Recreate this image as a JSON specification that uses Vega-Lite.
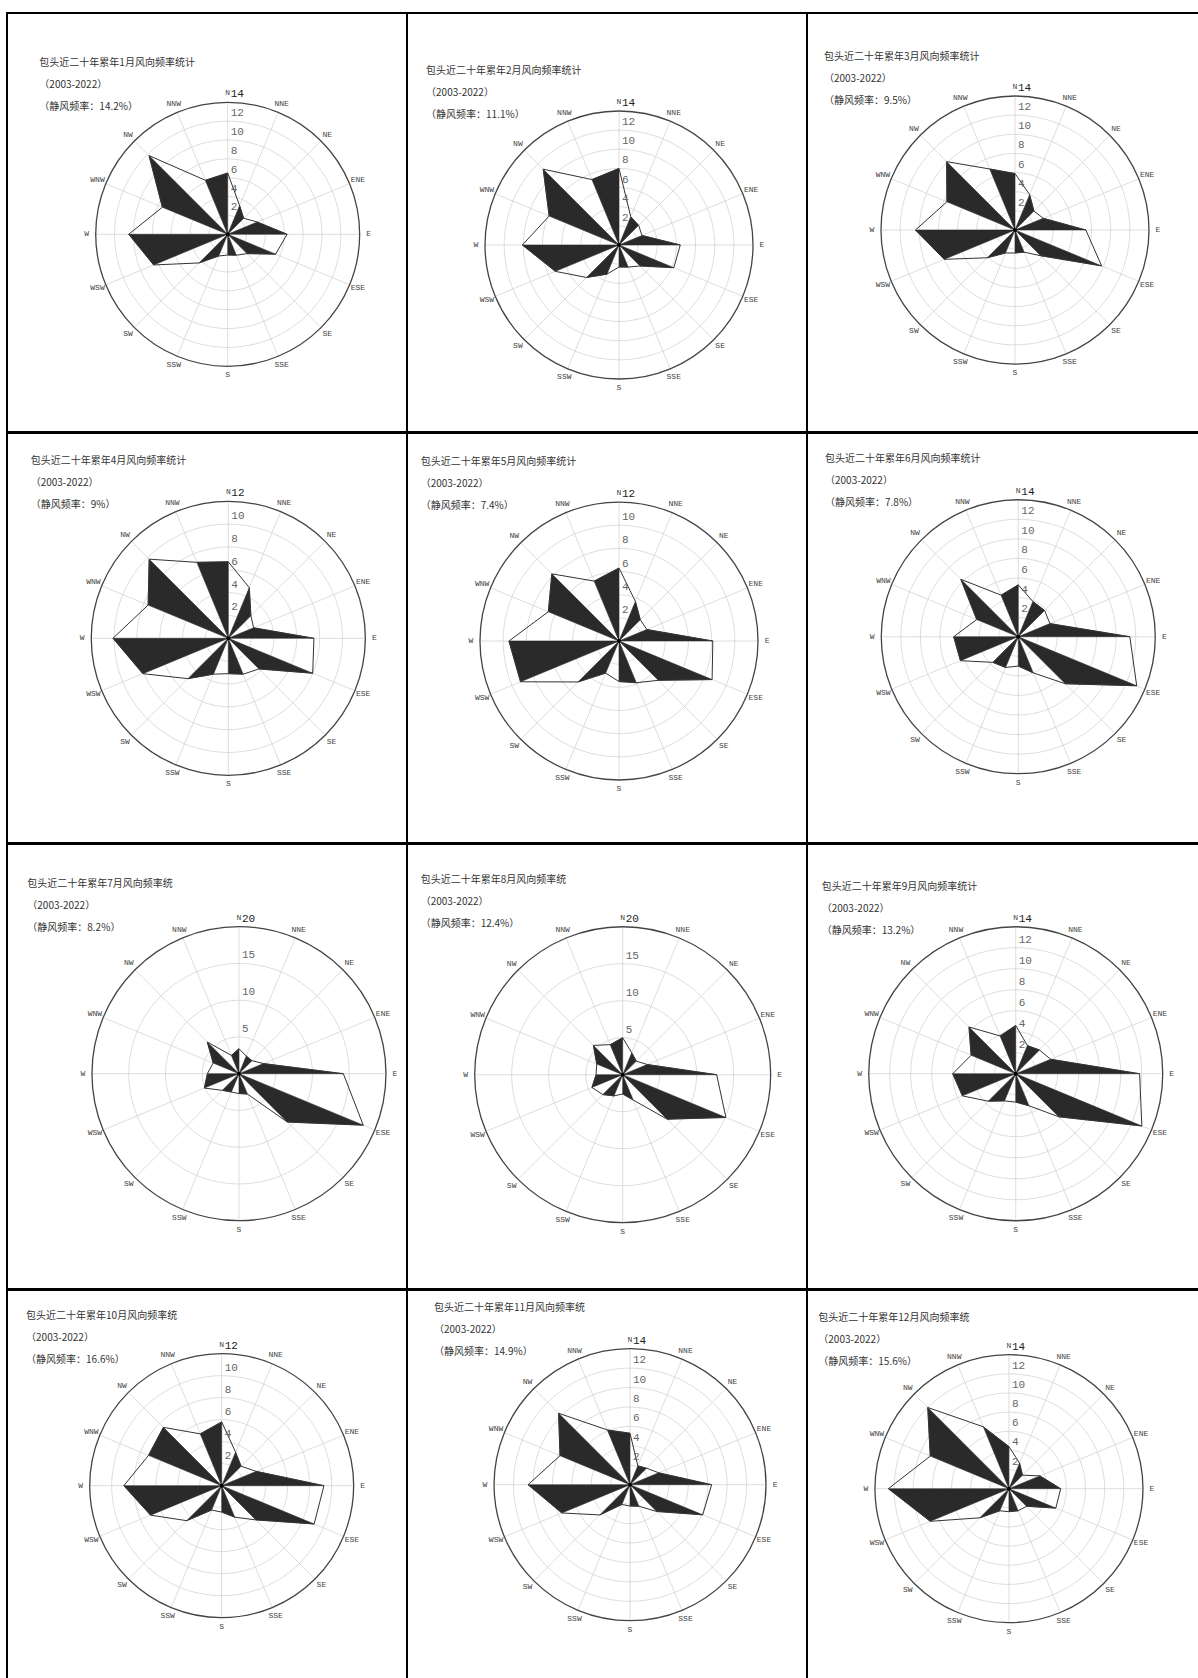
{
"$schema": "https://vega.github.io/schema/vega-lite/v6.json",
"background": "white",
"padding": {"left": 6, "top": 12, "right": 0, "bottom": 0},
"spacing": -2,
"resolve": {"scale": {"x": "independent", "y": "independent"}},
"config": {"view": {"stroke": "#000", "strokeWidth": 2}},
"datasets": {
"dirs": [{"i":0,"d":"N"},{"i":1,"d":"NNE"},{"i":2,"d":"NE"},{"i":3,"d":"ENE"},{"i":4,"d":"E"},{"i":5,"d":"ESE"},{"i":6,"d":"SE"},{"i":7,"d":"SSE"},{"i":8,"d":"S"},{"i":9,"d":"SSW"},{"i":10,"d":"SW"},{"i":11,"d":"WSW"},{"i":12,"d":"W"},{"i":13,"d":"WNW"},{"i":14,"d":"NW"},{"i":15,"d":"NNW"}],
"wind": [
{"m":1,"i":0,"f":6.5},{"m":1,"i":1,"f":3.3},{"m":1,"i":2,"f":2.4},{"m":1,"i":3,"f":3.4},{"m":1,"i":4,"f":6.3},{"m":1,"i":5,"f":5.5},{"m":1,"i":6,"f":2.9},{"m":1,"i":7,"f":2.4},{"m":1,"i":8,"f":2.2},{"m":1,"i":9,"f":2.5},{"m":1,"i":10,"f":4.3},{"m":1,"i":11,"f":8.5},{"m":1,"i":12,"f":10.5},{"m":1,"i":13,"f":7.5},{"m":1,"i":14,"f":11.8},{"m":1,"i":15,"f":6.2},
{"m":2,"i":0,"f":8.0},{"m":2,"i":1,"f":3.2},{"m":2,"i":2,"f":2.9},{"m":2,"i":3,"f":2.6},{"m":2,"i":4,"f":6.4},{"m":2,"i":5,"f":6.2},{"m":2,"i":6,"f":3.1},{"m":2,"i":7,"f":2.5},{"m":2,"i":8,"f":2.3},{"m":2,"i":9,"f":3.3},{"m":2,"i":10,"f":4.8},{"m":2,"i":11,"f":7.2},{"m":2,"i":12,"f":10.1},{"m":2,"i":13,"f":7.9},{"m":2,"i":14,"f":11.2},{"m":2,"i":15,"f":7.4},
{"m":3,"i":0,"f":5.9},{"m":3,"i":1,"f":4.0},{"m":3,"i":2,"f":2.8},{"m":3,"i":3,"f":3.2},{"m":3,"i":4,"f":7.4},{"m":3,"i":5,"f":9.8},{"m":3,"i":6,"f":3.8},{"m":3,"i":7,"f":2.5},{"m":3,"i":8,"f":2.4},{"m":3,"i":9,"f":2.6},{"m":3,"i":10,"f":4.1},{"m":3,"i":11,"f":8.0},{"m":3,"i":12,"f":10.4},{"m":3,"i":13,"f":7.7},{"m":3,"i":14,"f":10.1},{"m":3,"i":15,"f":6.9},
{"m":4,"i":0,"f":6.7},{"m":4,"i":1,"f":4.8},{"m":4,"i":2,"f":2.8},{"m":4,"i":3,"f":2.4},{"m":4,"i":4,"f":7.5},{"m":4,"i":5,"f":8.0},{"m":4,"i":6,"f":3.8},{"m":4,"i":7,"f":3.4},{"m":4,"i":8,"f":3.1},{"m":4,"i":9,"f":3.4},{"m":4,"i":10,"f":5.0},{"m":4,"i":11,"f":8.1},{"m":4,"i":12,"f":10.1},{"m":4,"i":13,"f":7.6},{"m":4,"i":14,"f":9.8},{"m":4,"i":15,"f":7.2},
{"m":5,"i":0,"f":6.3},{"m":5,"i":1,"f":3.7},{"m":5,"i":2,"f":2.6},{"m":5,"i":3,"f":2.6},{"m":5,"i":4,"f":8.1},{"m":5,"i":5,"f":8.7},{"m":5,"i":6,"f":4.8},{"m":5,"i":7,"f":3.9},{"m":5,"i":8,"f":3.5},{"m":5,"i":9,"f":3.0},{"m":5,"i":10,"f":5.0},{"m":5,"i":11,"f":9.2},{"m":5,"i":12,"f":9.5},{"m":5,"i":13,"f":6.6},{"m":5,"i":14,"f":8.2},{"m":5,"i":15,"f":5.6},
{"m":6,"i":0,"f":5.3},{"m":6,"i":1,"f":3.9},{"m":6,"i":2,"f":3.8},{"m":6,"i":3,"f":3.5},{"m":6,"i":4,"f":11.4},{"m":6,"i":5,"f":13.1},{"m":6,"i":6,"f":6.8},{"m":6,"i":7,"f":4.0},{"m":6,"i":8,"f":3.0},{"m":6,"i":9,"f":3.4},{"m":6,"i":10,"f":3.7},{"m":6,"i":11,"f":6.4},{"m":6,"i":12,"f":6.6},{"m":6,"i":13,"f":4.6},{"m":6,"i":14,"f":8.3},{"m":6,"i":15,"f":4.6},
{"m":7,"i":0,"f":3.4},{"m":7,"i":1,"f":2.6},{"m":7,"i":2,"f":2.5},{"m":7,"i":3,"f":3.6},{"m":7,"i":4,"f":14.2},{"m":7,"i":5,"f":18.3},{"m":7,"i":6,"f":9.3},{"m":7,"i":7,"f":3.0},{"m":7,"i":8,"f":2.7},{"m":7,"i":9,"f":2.7},{"m":7,"i":10,"f":3.2},{"m":7,"i":11,"f":5.1},{"m":7,"i":12,"f":4.3},{"m":7,"i":13,"f":3.8},{"m":7,"i":14,"f":6.1},{"m":7,"i":15,"f":2.7},
{"m":8,"i":0,"f":5.0},{"m":8,"i":1,"f":3.2},{"m":8,"i":2,"f":2.6},{"m":8,"i":3,"f":3.6},{"m":8,"i":4,"f":12.7},{"m":8,"i":5,"f":15.1},{"m":8,"i":6,"f":8.5},{"m":8,"i":7,"f":3.7},{"m":8,"i":8,"f":2.6},{"m":8,"i":9,"f":3.1},{"m":8,"i":10,"f":3.8},{"m":8,"i":11,"f":4.5},{"m":8,"i":12,"f":3.6},{"m":8,"i":13,"f":3.8},{"m":8,"i":14,"f":5.6},{"m":8,"i":15,"f":4.4},
{"m":9,"i":0,"f":4.6},{"m":9,"i":1,"f":2.9},{"m":9,"i":2,"f":3.2},{"m":9,"i":3,"f":3.6},{"m":9,"i":4,"f":11.8},{"m":9,"i":5,"f":13.0},{"m":9,"i":6,"f":5.8},{"m":9,"i":7,"f":3.3},{"m":9,"i":8,"f":2.7},{"m":9,"i":9,"f":2.8},{"m":9,"i":10,"f":3.7},{"m":9,"i":11,"f":5.5},{"m":9,"i":12,"f":6.0},{"m":9,"i":13,"f":4.6},{"m":9,"i":14,"f":6.3},{"m":9,"i":15,"f":3.9},
{"m":10,"i":0,"f":5.8},{"m":10,"i":1,"f":3.3},{"m":10,"i":2,"f":2.5},{"m":10,"i":3,"f":3.4},{"m":10,"i":4,"f":9.3},{"m":10,"i":5,"f":9.1},{"m":10,"i":6,"f":4.4},{"m":10,"i":7,"f":3.1},{"m":10,"i":8,"f":2.4},{"m":10,"i":9,"f":2.4},{"m":10,"i":10,"f":4.5},{"m":10,"i":11,"f":7.0},{"m":10,"i":12,"f":8.9},{"m":10,"i":13,"f":7.2},{"m":10,"i":14,"f":7.5},{"m":10,"i":15,"f":5.1},
{"m":11,"i":0,"f":5.3},{"m":11,"i":1,"f":2.1},{"m":11,"i":2,"f":2.4},{"m":11,"i":3,"f":3.2},{"m":11,"i":4,"f":8.4},{"m":11,"i":5,"f":8.1},{"m":11,"i":6,"f":3.9},{"m":11,"i":7,"f":2.4},{"m":11,"i":8,"f":2.2},{"m":11,"i":9,"f":2.2},{"m":11,"i":10,"f":4.4},{"m":11,"i":11,"f":7.6},{"m":11,"i":12,"f":10.5},{"m":11,"i":13,"f":7.8},{"m":11,"i":14,"f":10.4},{"m":11,"i":15,"f":6.1},
{"m":12,"i":0,"f":4.4},{"m":12,"i":1,"f":2.9},{"m":12,"i":2,"f":2.0},{"m":12,"i":3,"f":3.5},{"m":12,"i":4,"f":5.4},{"m":12,"i":5,"f":5.3},{"m":12,"i":6,"f":2.6},{"m":12,"i":7,"f":2.5},{"m":12,"i":8,"f":2.4},{"m":12,"i":9,"f":2.5},{"m":12,"i":10,"f":4.3},{"m":12,"i":11,"f":8.9},{"m":12,"i":12,"f":12.6},{"m":12,"i":13,"f":8.9},{"m":12,"i":14,"f":12.0},{"m":12,"i":15,"f":7.0}
]
},
"vconcat": [
{"hconcat": [
{"width":400,"height":419,"layer":[
  {"data":{"name":"dirs"},"transform":[{"calculate":"datum.i*PI/8","as":"a"},{"calculate":"14*sin(datum.a)","as":"ex"},{"calculate":"14*cos(datum.a)","as":"ey"}],"mark":{"type":"rule","color":"#d4d4d4","strokeWidth":0.8},"encoding":{"x":{"field":"ex","type":"quantitative","scale":{"domain":[-23.41,19.02],"nice":false,"zero":false},"axis":null},"y":{"field":"ey","type":"quantitative","scale":{"domain":[-20.97,23.47],"nice":false,"zero":false},"axis":null},"x2":{"datum":0},"y2":{"datum":0}}},
  {"data":{"name":"dirs"},"transform":[{"calculate":"datum.i*PI/8","as":"a"},{"calculate":"[2,4,6,8,10,12]","as":"rv"},{"flatten":["rv"]},{"calculate":"datum.rv*sin(datum.a)","as":"x"},{"calculate":"datum.rv*cos(datum.a)","as":"y"}],"mark":{"type":"line","interpolate":"cardinal-closed","color":"#d4d4d4","strokeWidth":0.8},"encoding":{"x":{"field":"x","type":"quantitative","axis":null},"y":{"field":"y","type":"quantitative","axis":null},"detail":{"field":"rv","type":"nominal"},"order":{"field":"i","type":"quantitative"}}},
  {"data":{"name":"dirs"},"transform":[{"calculate":"datum.i*PI/8","as":"a"},{"calculate":"14*sin(datum.a)","as":"x"},{"calculate":"14*cos(datum.a)","as":"y"}],"mark":{"type":"line","interpolate":"cardinal-closed","color":"#444","strokeWidth":1.3},"encoding":{"x":{"field":"x","type":"quantitative","axis":null},"y":{"field":"y","type":"quantitative","axis":null},"order":{"field":"i","type":"quantitative"}}},
  {"data":{"name":"wind"},"transform":[{"filter":"datum.m==1"},{"calculate":"datum.i*PI/8","as":"a"},{"calculate":"floor(((datum.i+15)%16)/2)","as":"s"},{"calculate":"[datum.f,0]","as":"rr"},{"flatten":["rr"]},{"calculate":"datum.rr*sin(datum.a)","as":"x"},{"calculate":"datum.rr*cos(datum.a)","as":"y"}],"mark":{"type":"line","interpolate":"linear-closed","fill":"#2a2a2a","stroke":"#2a2a2a","strokeWidth":0.5},"encoding":{"x":{"field":"x","type":"quantitative","axis":null},"y":{"field":"y","type":"quantitative","axis":null},"detail":{"field":"s","type":"nominal"},"order":{"field":"rr","type":"quantitative","sort":"descending"}}},
  {"data":{"name":"wind"},"transform":[{"filter":"datum.m==1"},{"calculate":"datum.i*PI/8","as":"a"},{"calculate":"datum.f*sin(datum.a)","as":"x"},{"calculate":"datum.f*cos(datum.a)","as":"y"}],"mark":{"type":"line","interpolate":"linear-closed","color":"#333","strokeWidth":1},"encoding":{"x":{"field":"x","type":"quantitative","axis":null},"y":{"field":"y","type":"quantitative","axis":null},"order":{"field":"i","type":"quantitative"}}},
  {"data":{"values":[{}]},"mark":{"type":"point","filled":true,"color":"#000","size":16,"opacity":1},"encoding":{"x":{"datum":0,"type":"quantitative","axis":null},"y":{"datum":0,"type":"quantitative","axis":null}}},
  {"data":{"name":"dirs"},"transform":[{"calculate":"datum.i*PI/8","as":"a"},{"calculate":"14.95*sin(datum.a)","as":"x"},{"calculate":"14.95*cos(datum.a)","as":"y"}],"mark":{"type":"text","font":"Liberation Mono","fontSize":8,"color":"#444"},"encoding":{"x":{"field":"x","type":"quantitative","axis":null},"y":{"field":"y","type":"quantitative","axis":null},"text":{"field":"d"}}},
  {"data":{"values":[{"v":2},{"v":4},{"v":6},{"v":8},{"v":10},{"v":12},{"v":14}]},"mark":{"type":"text","align":"left","baseline":"middle","dx":3,"dy":-8,"font":"Liberation Mono"},"encoding":{"x":{"datum":0,"type":"quantitative","axis":null},"y":{"field":"v","type":"quantitative","axis":null},"text":{"field":"v","type":"quantitative"},"fontSize":{"condition":{"test":"datum.v==14","value":11},"value":8},"color":{"condition":{"test":"datum.v==14","value":"#222"},"value":"#666"}}},
  {"data":{"values":[{"t":"包头近二十年累年1月风向频率统计\n（2003-2022）\n（静风频率：14.2%）"}]},"mark":{"type":"text","align":"left","baseline":"top","lineBreak":"\n","lineHeight":22,"font":"Noto Sans CJK SC","fontSize":10,"color":"#333"},"encoding":{"x":{"datum":-19.98,"type":"quantitative","axis":null},"y":{"datum":18.67,"type":"quantitative","axis":null},"text":{"field":"t"}}}
 ]},
{"width":400,"height":419,"layer":[
  {"data":{"name":"dirs"},"transform":[{"calculate":"datum.i*PI/8","as":"a"},{"calculate":"14*sin(datum.a)","as":"ex"},{"calculate":"14*cos(datum.a)","as":"ey"}],"mark":{"type":"rule","color":"#d4d4d4","strokeWidth":0.8},"encoding":{"x":{"field":"ex","type":"quantitative","scale":{"domain":[-22.15,19.64],"nice":false,"zero":false},"axis":null},"y":{"field":"ey","type":"quantitative","scale":{"domain":[-19.54,24.24],"nice":false,"zero":false},"axis":null},"x2":{"datum":0},"y2":{"datum":0}}},
  {"data":{"name":"dirs"},"transform":[{"calculate":"datum.i*PI/8","as":"a"},{"calculate":"[2,4,6,8,10,12]","as":"rv"},{"flatten":["rv"]},{"calculate":"datum.rv*sin(datum.a)","as":"x"},{"calculate":"datum.rv*cos(datum.a)","as":"y"}],"mark":{"type":"line","interpolate":"cardinal-closed","color":"#d4d4d4","strokeWidth":0.8},"encoding":{"x":{"field":"x","type":"quantitative","axis":null},"y":{"field":"y","type":"quantitative","axis":null},"detail":{"field":"rv","type":"nominal"},"order":{"field":"i","type":"quantitative"}}},
  {"data":{"name":"dirs"},"transform":[{"calculate":"datum.i*PI/8","as":"a"},{"calculate":"14*sin(datum.a)","as":"x"},{"calculate":"14*cos(datum.a)","as":"y"}],"mark":{"type":"line","interpolate":"cardinal-closed","color":"#444","strokeWidth":1.3},"encoding":{"x":{"field":"x","type":"quantitative","axis":null},"y":{"field":"y","type":"quantitative","axis":null},"order":{"field":"i","type":"quantitative"}}},
  {"data":{"name":"wind"},"transform":[{"filter":"datum.m==2"},{"calculate":"datum.i*PI/8","as":"a"},{"calculate":"floor(((datum.i+15)%16)/2)","as":"s"},{"calculate":"[datum.f,0]","as":"rr"},{"flatten":["rr"]},{"calculate":"datum.rr*sin(datum.a)","as":"x"},{"calculate":"datum.rr*cos(datum.a)","as":"y"}],"mark":{"type":"line","interpolate":"linear-closed","fill":"#2a2a2a","stroke":"#2a2a2a","strokeWidth":0.5},"encoding":{"x":{"field":"x","type":"quantitative","axis":null},"y":{"field":"y","type":"quantitative","axis":null},"detail":{"field":"s","type":"nominal"},"order":{"field":"rr","type":"quantitative","sort":"descending"}}},
  {"data":{"name":"wind"},"transform":[{"filter":"datum.m==2"},{"calculate":"datum.i*PI/8","as":"a"},{"calculate":"datum.f*sin(datum.a)","as":"x"},{"calculate":"datum.f*cos(datum.a)","as":"y"}],"mark":{"type":"line","interpolate":"linear-closed","color":"#333","strokeWidth":1},"encoding":{"x":{"field":"x","type":"quantitative","axis":null},"y":{"field":"y","type":"quantitative","axis":null},"order":{"field":"i","type":"quantitative"}}},
  {"data":{"values":[{}]},"mark":{"type":"point","filled":true,"color":"#000","size":16,"opacity":1},"encoding":{"x":{"datum":0,"type":"quantitative","axis":null},"y":{"datum":0,"type":"quantitative","axis":null}}},
  {"data":{"name":"dirs"},"transform":[{"calculate":"datum.i*PI/8","as":"a"},{"calculate":"14.94*sin(datum.a)","as":"x"},{"calculate":"14.94*cos(datum.a)","as":"y"}],"mark":{"type":"text","font":"Liberation Mono","fontSize":8,"color":"#444"},"encoding":{"x":{"field":"x","type":"quantitative","axis":null},"y":{"field":"y","type":"quantitative","axis":null},"text":{"field":"d"}}},
  {"data":{"values":[{"v":2},{"v":4},{"v":6},{"v":8},{"v":10},{"v":12},{"v":14}]},"mark":{"type":"text","align":"left","baseline":"middle","dx":3,"dy":-8,"font":"Liberation Mono"},"encoding":{"x":{"datum":0,"type":"quantitative","axis":null},"y":{"field":"v","type":"quantitative","axis":null},"text":{"field":"v","type":"quantitative"},"fontSize":{"condition":{"test":"datum.v==14","value":11},"value":8},"color":{"condition":{"test":"datum.v==14","value":"#222"},"value":"#666"}}},
  {"data":{"values":[{"t":"包头近二十年累年2月风向频率统计\n（2003-2022）\n（静风频率：11.1%）"}]},"mark":{"type":"text","align":"left","baseline":"top","lineBreak":"\n","lineHeight":22,"font":"Noto Sans CJK SC","fontSize":10,"color":"#333"},"encoding":{"x":{"datum":-20.16,"type":"quantitative","axis":null},"y":{"datum":18.70,"type":"quantitative","axis":null},"text":{"field":"t"}}}
 ]},
{"width":393,"height":419,"layer":[
  {"data":{"name":"dirs"},"transform":[{"calculate":"datum.i*PI/8","as":"a"},{"calculate":"14*sin(datum.a)","as":"ex"},{"calculate":"14*cos(datum.a)","as":"ey"}],"mark":{"type":"rule","color":"#d4d4d4","strokeWidth":0.8},"encoding":{"x":{"field":"ex","type":"quantitative","scale":{"domain":[-21.73,19.33],"nice":false,"zero":false},"axis":null},"y":{"field":"ey","type":"quantitative","scale":{"domain":[-21.10,22.67],"nice":false,"zero":false},"axis":null},"x2":{"datum":0},"y2":{"datum":0}}},
  {"data":{"name":"dirs"},"transform":[{"calculate":"datum.i*PI/8","as":"a"},{"calculate":"[2,4,6,8,10,12]","as":"rv"},{"flatten":["rv"]},{"calculate":"datum.rv*sin(datum.a)","as":"x"},{"calculate":"datum.rv*cos(datum.a)","as":"y"}],"mark":{"type":"line","interpolate":"cardinal-closed","color":"#d4d4d4","strokeWidth":0.8},"encoding":{"x":{"field":"x","type":"quantitative","axis":null},"y":{"field":"y","type":"quantitative","axis":null},"detail":{"field":"rv","type":"nominal"},"order":{"field":"i","type":"quantitative"}}},
  {"data":{"name":"dirs"},"transform":[{"calculate":"datum.i*PI/8","as":"a"},{"calculate":"14*sin(datum.a)","as":"x"},{"calculate":"14*cos(datum.a)","as":"y"}],"mark":{"type":"line","interpolate":"cardinal-closed","color":"#444","strokeWidth":1.3},"encoding":{"x":{"field":"x","type":"quantitative","axis":null},"y":{"field":"y","type":"quantitative","axis":null},"order":{"field":"i","type":"quantitative"}}},
  {"data":{"name":"wind"},"transform":[{"filter":"datum.m==3"},{"calculate":"datum.i*PI/8","as":"a"},{"calculate":"floor(((datum.i+15)%16)/2)","as":"s"},{"calculate":"[datum.f,0]","as":"rr"},{"flatten":["rr"]},{"calculate":"datum.rr*sin(datum.a)","as":"x"},{"calculate":"datum.rr*cos(datum.a)","as":"y"}],"mark":{"type":"line","interpolate":"linear-closed","fill":"#2a2a2a","stroke":"#2a2a2a","strokeWidth":0.5},"encoding":{"x":{"field":"x","type":"quantitative","axis":null},"y":{"field":"y","type":"quantitative","axis":null},"detail":{"field":"s","type":"nominal"},"order":{"field":"rr","type":"quantitative","sort":"descending"}}},
  {"data":{"name":"wind"},"transform":[{"filter":"datum.m==3"},{"calculate":"datum.i*PI/8","as":"a"},{"calculate":"datum.f*sin(datum.a)","as":"x"},{"calculate":"datum.f*cos(datum.a)","as":"y"}],"mark":{"type":"line","interpolate":"linear-closed","color":"#333","strokeWidth":1},"encoding":{"x":{"field":"x","type":"quantitative","axis":null},"y":{"field":"y","type":"quantitative","axis":null},"order":{"field":"i","type":"quantitative"}}},
  {"data":{"values":[{}]},"mark":{"type":"point","filled":true,"color":"#000","size":16,"opacity":1},"encoding":{"x":{"datum":0,"type":"quantitative","axis":null},"y":{"datum":0,"type":"quantitative","axis":null}}},
  {"data":{"name":"dirs"},"transform":[{"calculate":"datum.i*PI/8","as":"a"},{"calculate":"14.94*sin(datum.a)","as":"x"},{"calculate":"14.94*cos(datum.a)","as":"y"}],"mark":{"type":"text","font":"Liberation Mono","fontSize":8,"color":"#444"},"encoding":{"x":{"field":"x","type":"quantitative","axis":null},"y":{"field":"y","type":"quantitative","axis":null},"text":{"field":"d"}}},
  {"data":{"values":[{"v":2},{"v":4},{"v":6},{"v":8},{"v":10},{"v":12},{"v":14}]},"mark":{"type":"text","align":"left","baseline":"middle","dx":3,"dy":-8,"font":"Liberation Mono"},"encoding":{"x":{"datum":0,"type":"quantitative","axis":null},"y":{"field":"v","type":"quantitative","axis":null},"text":{"field":"v","type":"quantitative"},"fontSize":{"condition":{"test":"datum.v==14","value":11},"value":8},"color":{"condition":{"test":"datum.v==14","value":"#222"},"value":"#666"}}},
  {"data":{"values":[{"t":"包头近二十年累年3月风向频率统计\n（2003-2022）\n（静风频率：9.5%）"}]},"mark":{"type":"text","align":"left","baseline":"top","lineBreak":"\n","lineHeight":22,"font":"Noto Sans CJK SC","fontSize":10,"color":"#333"},"encoding":{"x":{"datum":-19.96,"type":"quantitative","axis":null},"y":{"datum":18.63,"type":"quantitative","axis":null},"text":{"field":"t"}}}
 ]}
], "spacing": 0, "bounds": "flush", "resolve": {"scale": {"x": "independent", "y": "independent"}}},
{"hconcat": [
{"width":400,"height":410,"layer":[
  {"data":{"name":"dirs"},"transform":[{"calculate":"datum.i*PI/8","as":"a"},{"calculate":"12*sin(datum.a)","as":"ex"},{"calculate":"12*cos(datum.a)","as":"ey"}],"mark":{"type":"rule","color":"#d4d4d4","strokeWidth":0.8},"encoding":{"x":{"field":"ex","type":"quantitative","scale":{"domain":[-19.38,15.65],"nice":false,"zero":false},"axis":null},"y":{"field":"ey","type":"quantitative","scale":{"domain":[-17.93,17.98],"nice":false,"zero":false},"axis":null},"x2":{"datum":0},"y2":{"datum":0}}},
  {"data":{"name":"dirs"},"transform":[{"calculate":"datum.i*PI/8","as":"a"},{"calculate":"[2,4,6,8,10]","as":"rv"},{"flatten":["rv"]},{"calculate":"datum.rv*sin(datum.a)","as":"x"},{"calculate":"datum.rv*cos(datum.a)","as":"y"}],"mark":{"type":"line","interpolate":"cardinal-closed","color":"#d4d4d4","strokeWidth":0.8},"encoding":{"x":{"field":"x","type":"quantitative","axis":null},"y":{"field":"y","type":"quantitative","axis":null},"detail":{"field":"rv","type":"nominal"},"order":{"field":"i","type":"quantitative"}}},
  {"data":{"name":"dirs"},"transform":[{"calculate":"datum.i*PI/8","as":"a"},{"calculate":"12*sin(datum.a)","as":"x"},{"calculate":"12*cos(datum.a)","as":"y"}],"mark":{"type":"line","interpolate":"cardinal-closed","color":"#444","strokeWidth":1.3},"encoding":{"x":{"field":"x","type":"quantitative","axis":null},"y":{"field":"y","type":"quantitative","axis":null},"order":{"field":"i","type":"quantitative"}}},
  {"data":{"name":"wind"},"transform":[{"filter":"datum.m==4"},{"calculate":"datum.i*PI/8","as":"a"},{"calculate":"floor(((datum.i+15)%16)/2)","as":"s"},{"calculate":"[datum.f,0]","as":"rr"},{"flatten":["rr"]},{"calculate":"datum.rr*sin(datum.a)","as":"x"},{"calculate":"datum.rr*cos(datum.a)","as":"y"}],"mark":{"type":"line","interpolate":"linear-closed","fill":"#2a2a2a","stroke":"#2a2a2a","strokeWidth":0.5},"encoding":{"x":{"field":"x","type":"quantitative","axis":null},"y":{"field":"y","type":"quantitative","axis":null},"detail":{"field":"s","type":"nominal"},"order":{"field":"rr","type":"quantitative","sort":"descending"}}},
  {"data":{"name":"wind"},"transform":[{"filter":"datum.m==4"},{"calculate":"datum.i*PI/8","as":"a"},{"calculate":"datum.f*sin(datum.a)","as":"x"},{"calculate":"datum.f*cos(datum.a)","as":"y"}],"mark":{"type":"line","interpolate":"linear-closed","color":"#333","strokeWidth":1},"encoding":{"x":{"field":"x","type":"quantitative","axis":null},"y":{"field":"y","type":"quantitative","axis":null},"order":{"field":"i","type":"quantitative"}}},
  {"data":{"values":[{}]},"mark":{"type":"point","filled":true,"color":"#000","size":16,"opacity":1},"encoding":{"x":{"datum":0,"type":"quantitative","axis":null},"y":{"datum":0,"type":"quantitative","axis":null}}},
  {"data":{"name":"dirs"},"transform":[{"calculate":"datum.i*PI/8","as":"a"},{"calculate":"12.79*sin(datum.a)","as":"x"},{"calculate":"12.79*cos(datum.a)","as":"y"}],"mark":{"type":"text","font":"Liberation Mono","fontSize":8,"color":"#444"},"encoding":{"x":{"field":"x","type":"quantitative","axis":null},"y":{"field":"y","type":"quantitative","axis":null},"text":{"field":"d"}}},
  {"data":{"values":[{"v":2},{"v":4},{"v":6},{"v":8},{"v":10},{"v":12}]},"mark":{"type":"text","align":"left","baseline":"middle","dx":3,"dy":-8,"font":"Liberation Mono"},"encoding":{"x":{"datum":0,"type":"quantitative","axis":null},"y":{"field":"v","type":"quantitative","axis":null},"text":{"field":"v","type":"quantitative"},"fontSize":{"condition":{"test":"datum.v==12","value":11},"value":8},"color":{"condition":{"test":"datum.v==12","value":"#222"},"value":"#666"}}},
  {"data":{"values":[{"t":"包头近二十年累年4月风向频率统计\n（2003-2022）\n（静风频率：9%）"}]},"mark":{"type":"text","align":"left","baseline":"top","lineBreak":"\n","lineHeight":22,"font":"Noto Sans CJK SC","fontSize":10,"color":"#333"},"encoding":{"x":{"datum":-17.31,"type":"quantitative","axis":null},"y":{"datum":15.97,"type":"quantitative","axis":null},"text":{"field":"t"}}}
 ]},
{"width":400,"height":410,"layer":[
  {"data":{"name":"dirs"},"transform":[{"calculate":"datum.i*PI/8","as":"a"},{"calculate":"12*sin(datum.a)","as":"ex"},{"calculate":"12*cos(datum.a)","as":"ey"}],"mark":{"type":"rule","color":"#d4d4d4","strokeWidth":0.8},"encoding":{"x":{"field":"ex","type":"quantitative","scale":{"domain":[-18.30,16.23],"nice":false,"zero":false},"axis":null},"y":{"field":"ey","type":"quantitative","scale":{"domain":[-17.44,17.96],"nice":false,"zero":false},"axis":null},"x2":{"datum":0},"y2":{"datum":0}}},
  {"data":{"name":"dirs"},"transform":[{"calculate":"datum.i*PI/8","as":"a"},{"calculate":"[2,4,6,8,10]","as":"rv"},{"flatten":["rv"]},{"calculate":"datum.rv*sin(datum.a)","as":"x"},{"calculate":"datum.rv*cos(datum.a)","as":"y"}],"mark":{"type":"line","interpolate":"cardinal-closed","color":"#d4d4d4","strokeWidth":0.8},"encoding":{"x":{"field":"x","type":"quantitative","axis":null},"y":{"field":"y","type":"quantitative","axis":null},"detail":{"field":"rv","type":"nominal"},"order":{"field":"i","type":"quantitative"}}},
  {"data":{"name":"dirs"},"transform":[{"calculate":"datum.i*PI/8","as":"a"},{"calculate":"12*sin(datum.a)","as":"x"},{"calculate":"12*cos(datum.a)","as":"y"}],"mark":{"type":"line","interpolate":"cardinal-closed","color":"#444","strokeWidth":1.3},"encoding":{"x":{"field":"x","type":"quantitative","axis":null},"y":{"field":"y","type":"quantitative","axis":null},"order":{"field":"i","type":"quantitative"}}},
  {"data":{"name":"wind"},"transform":[{"filter":"datum.m==5"},{"calculate":"datum.i*PI/8","as":"a"},{"calculate":"floor(((datum.i+15)%16)/2)","as":"s"},{"calculate":"[datum.f,0]","as":"rr"},{"flatten":["rr"]},{"calculate":"datum.rr*sin(datum.a)","as":"x"},{"calculate":"datum.rr*cos(datum.a)","as":"y"}],"mark":{"type":"line","interpolate":"linear-closed","fill":"#2a2a2a","stroke":"#2a2a2a","strokeWidth":0.5},"encoding":{"x":{"field":"x","type":"quantitative","axis":null},"y":{"field":"y","type":"quantitative","axis":null},"detail":{"field":"s","type":"nominal"},"order":{"field":"rr","type":"quantitative","sort":"descending"}}},
  {"data":{"name":"wind"},"transform":[{"filter":"datum.m==5"},{"calculate":"datum.i*PI/8","as":"a"},{"calculate":"datum.f*sin(datum.a)","as":"x"},{"calculate":"datum.f*cos(datum.a)","as":"y"}],"mark":{"type":"line","interpolate":"linear-closed","color":"#333","strokeWidth":1},"encoding":{"x":{"field":"x","type":"quantitative","axis":null},"y":{"field":"y","type":"quantitative","axis":null},"order":{"field":"i","type":"quantitative"}}},
  {"data":{"values":[{}]},"mark":{"type":"point","filled":true,"color":"#000","size":16,"opacity":1},"encoding":{"x":{"datum":0,"type":"quantitative","axis":null},"y":{"datum":0,"type":"quantitative","axis":null}}},
  {"data":{"name":"dirs"},"transform":[{"calculate":"datum.i*PI/8","as":"a"},{"calculate":"12.78*sin(datum.a)","as":"x"},{"calculate":"12.78*cos(datum.a)","as":"y"}],"mark":{"type":"text","font":"Liberation Mono","fontSize":8,"color":"#444"},"encoding":{"x":{"field":"x","type":"quantitative","axis":null},"y":{"field":"y","type":"quantitative","axis":null},"text":{"field":"d"}}},
  {"data":{"values":[{"v":2},{"v":4},{"v":6},{"v":8},{"v":10},{"v":12}]},"mark":{"type":"text","align":"left","baseline":"middle","dx":3,"dy":-8,"font":"Liberation Mono"},"encoding":{"x":{"datum":0,"type":"quantitative","axis":null},"y":{"field":"v","type":"quantitative","axis":null},"text":{"field":"v","type":"quantitative"},"fontSize":{"condition":{"test":"datum.v==12","value":11},"value":8},"color":{"condition":{"test":"datum.v==12","value":"#222"},"value":"#666"}}},
  {"data":{"values":[{"t":"包头近二十年累年5月风向频率统计\n（2003-2022）\n（静风频率：7.4%）"}]},"mark":{"type":"text","align":"left","baseline":"top","lineBreak":"\n","lineHeight":22,"font":"Noto Sans CJK SC","fontSize":10,"color":"#333"},"encoding":{"x":{"datum":-17.12,"type":"quantitative","axis":null},"y":{"datum":15.88,"type":"quantitative","axis":null},"text":{"field":"t"}}}
 ]},
{"width":393,"height":410,"layer":[
  {"data":{"name":"dirs"},"transform":[{"calculate":"datum.i*PI/8","as":"a"},{"calculate":"14*sin(datum.a)","as":"ex"},{"calculate":"14*cos(datum.a)","as":"ey"}],"mark":{"type":"rule","color":"#d4d4d4","strokeWidth":0.8},"encoding":{"x":{"field":"ex","type":"quantitative","scale":{"domain":[-21.59,18.57],"nice":false,"zero":false},"axis":null},"y":{"field":"ey","type":"quantitative","scale":{"domain":[-21.08,20.82],"nice":false,"zero":false},"axis":null},"x2":{"datum":0},"y2":{"datum":0}}},
  {"data":{"name":"dirs"},"transform":[{"calculate":"datum.i*PI/8","as":"a"},{"calculate":"[2,4,6,8,10,12]","as":"rv"},{"flatten":["rv"]},{"calculate":"datum.rv*sin(datum.a)","as":"x"},{"calculate":"datum.rv*cos(datum.a)","as":"y"}],"mark":{"type":"line","interpolate":"cardinal-closed","color":"#d4d4d4","strokeWidth":0.8},"encoding":{"x":{"field":"x","type":"quantitative","axis":null},"y":{"field":"y","type":"quantitative","axis":null},"detail":{"field":"rv","type":"nominal"},"order":{"field":"i","type":"quantitative"}}},
  {"data":{"name":"dirs"},"transform":[{"calculate":"datum.i*PI/8","as":"a"},{"calculate":"14*sin(datum.a)","as":"x"},{"calculate":"14*cos(datum.a)","as":"y"}],"mark":{"type":"line","interpolate":"cardinal-closed","color":"#444","strokeWidth":1.3},"encoding":{"x":{"field":"x","type":"quantitative","axis":null},"y":{"field":"y","type":"quantitative","axis":null},"order":{"field":"i","type":"quantitative"}}},
  {"data":{"name":"wind"},"transform":[{"filter":"datum.m==6"},{"calculate":"datum.i*PI/8","as":"a"},{"calculate":"floor(((datum.i+15)%16)/2)","as":"s"},{"calculate":"[datum.f,0]","as":"rr"},{"flatten":["rr"]},{"calculate":"datum.rr*sin(datum.a)","as":"x"},{"calculate":"datum.rr*cos(datum.a)","as":"y"}],"mark":{"type":"line","interpolate":"linear-closed","fill":"#2a2a2a","stroke":"#2a2a2a","strokeWidth":0.5},"encoding":{"x":{"field":"x","type":"quantitative","axis":null},"y":{"field":"y","type":"quantitative","axis":null},"detail":{"field":"s","type":"nominal"},"order":{"field":"rr","type":"quantitative","sort":"descending"}}},
  {"data":{"name":"wind"},"transform":[{"filter":"datum.m==6"},{"calculate":"datum.i*PI/8","as":"a"},{"calculate":"datum.f*sin(datum.a)","as":"x"},{"calculate":"datum.f*cos(datum.a)","as":"y"}],"mark":{"type":"line","interpolate":"linear-closed","color":"#333","strokeWidth":1},"encoding":{"x":{"field":"x","type":"quantitative","axis":null},"y":{"field":"y","type":"quantitative","axis":null},"order":{"field":"i","type":"quantitative"}}},
  {"data":{"values":[{}]},"mark":{"type":"point","filled":true,"color":"#000","size":16,"opacity":1},"encoding":{"x":{"datum":0,"type":"quantitative","axis":null},"y":{"datum":0,"type":"quantitative","axis":null}}},
  {"data":{"name":"dirs"},"transform":[{"calculate":"datum.i*PI/8","as":"a"},{"calculate":"14.92*sin(datum.a)","as":"x"},{"calculate":"14.92*cos(datum.a)","as":"y"}],"mark":{"type":"text","font":"Liberation Mono","fontSize":8,"color":"#444"},"encoding":{"x":{"field":"x","type":"quantitative","axis":null},"y":{"field":"y","type":"quantitative","axis":null},"text":{"field":"d"}}},
  {"data":{"values":[{"v":2},{"v":4},{"v":6},{"v":8},{"v":10},{"v":12},{"v":14}]},"mark":{"type":"text","align":"left","baseline":"middle","dx":3,"dy":-8,"font":"Liberation Mono"},"encoding":{"x":{"datum":0,"type":"quantitative","axis":null},"y":{"field":"v","type":"quantitative","axis":null},"text":{"field":"v","type":"quantitative"},"fontSize":{"condition":{"test":"datum.v==14","value":11},"value":8},"color":{"condition":{"test":"datum.v==14","value":"#222"},"value":"#666"}}},
  {"data":{"values":[{"t":"包头近二十年累年6月风向频率统计\n（2003-2022）\n（静风频率：7.8%）"}]},"mark":{"type":"text","align":"left","baseline":"top","lineBreak":"\n","lineHeight":22,"font":"Noto Sans CJK SC","fontSize":10,"color":"#333"},"encoding":{"x":{"datum":-19.75,"type":"quantitative","axis":null},"y":{"datum":18.64,"type":"quantitative","axis":null},"text":{"field":"t"}}}
 ]}
], "spacing": 0, "bounds": "flush", "resolve": {"scale": {"x": "independent", "y": "independent"}}},
{"hconcat": [
{"width":400,"height":445,"layer":[
  {"data":{"name":"dirs"},"transform":[{"calculate":"datum.i*PI/8","as":"a"},{"calculate":"20*sin(datum.a)","as":"ex"},{"calculate":"20*cos(datum.a)","as":"ey"}],"mark":{"type":"rule","color":"#d4d4d4","strokeWidth":0.8},"encoding":{"x":{"field":"ex","type":"quantitative","scale":{"domain":[-31.56,22.86],"nice":false,"zero":false},"axis":null},"y":{"field":"ey","type":"quantitative","scale":{"domain":[-29.29,31.25],"nice":false,"zero":false},"axis":null},"x2":{"datum":0},"y2":{"datum":0}}},
  {"data":{"name":"dirs"},"transform":[{"calculate":"datum.i*PI/8","as":"a"},{"calculate":"[5,10,15]","as":"rv"},{"flatten":["rv"]},{"calculate":"datum.rv*sin(datum.a)","as":"x"},{"calculate":"datum.rv*cos(datum.a)","as":"y"}],"mark":{"type":"line","interpolate":"cardinal-closed","color":"#d4d4d4","strokeWidth":0.8},"encoding":{"x":{"field":"x","type":"quantitative","axis":null},"y":{"field":"y","type":"quantitative","axis":null},"detail":{"field":"rv","type":"nominal"},"order":{"field":"i","type":"quantitative"}}},
  {"data":{"name":"dirs"},"transform":[{"calculate":"datum.i*PI/8","as":"a"},{"calculate":"20*sin(datum.a)","as":"x"},{"calculate":"20*cos(datum.a)","as":"y"}],"mark":{"type":"line","interpolate":"cardinal-closed","color":"#444","strokeWidth":1.3},"encoding":{"x":{"field":"x","type":"quantitative","axis":null},"y":{"field":"y","type":"quantitative","axis":null},"order":{"field":"i","type":"quantitative"}}},
  {"data":{"name":"wind"},"transform":[{"filter":"datum.m==7"},{"calculate":"datum.i*PI/8","as":"a"},{"calculate":"floor(((datum.i+15)%16)/2)","as":"s"},{"calculate":"[datum.f,0]","as":"rr"},{"flatten":["rr"]},{"calculate":"datum.rr*sin(datum.a)","as":"x"},{"calculate":"datum.rr*cos(datum.a)","as":"y"}],"mark":{"type":"line","interpolate":"linear-closed","fill":"#2a2a2a","stroke":"#2a2a2a","strokeWidth":0.5},"encoding":{"x":{"field":"x","type":"quantitative","axis":null},"y":{"field":"y","type":"quantitative","axis":null},"detail":{"field":"s","type":"nominal"},"order":{"field":"rr","type":"quantitative","sort":"descending"}}},
  {"data":{"name":"wind"},"transform":[{"filter":"datum.m==7"},{"calculate":"datum.i*PI/8","as":"a"},{"calculate":"datum.f*sin(datum.a)","as":"x"},{"calculate":"datum.f*cos(datum.a)","as":"y"}],"mark":{"type":"line","interpolate":"linear-closed","color":"#333","strokeWidth":1},"encoding":{"x":{"field":"x","type":"quantitative","axis":null},"y":{"field":"y","type":"quantitative","axis":null},"order":{"field":"i","type":"quantitative"}}},
  {"data":{"values":[{}]},"mark":{"type":"point","filled":true,"color":"#000","size":16,"opacity":1},"encoding":{"x":{"datum":0,"type":"quantitative","axis":null},"y":{"datum":0,"type":"quantitative","axis":null}}},
  {"data":{"name":"dirs"},"transform":[{"calculate":"datum.i*PI/8","as":"a"},{"calculate":"21.22*sin(datum.a)","as":"x"},{"calculate":"21.22*cos(datum.a)","as":"y"}],"mark":{"type":"text","font":"Liberation Mono","fontSize":8,"color":"#444"},"encoding":{"x":{"field":"x","type":"quantitative","axis":null},"y":{"field":"y","type":"quantitative","axis":null},"text":{"field":"d"}}},
  {"data":{"values":[{"v":5},{"v":10},{"v":15},{"v":20}]},"mark":{"type":"text","align":"left","baseline":"middle","dx":3,"dy":-8,"font":"Liberation Mono"},"encoding":{"x":{"datum":0,"type":"quantitative","axis":null},"y":{"field":"v","type":"quantitative","axis":null},"text":{"field":"v","type":"quantitative"},"fontSize":{"condition":{"test":"datum.v==20","value":11},"value":8},"color":{"condition":{"test":"datum.v==20","value":"#222"},"value":"#666"}}},
  {"data":{"values":[{"t":"包头近二十年累年7月风向频率统\n（2003-2022）\n（静风频率：8.2%）"}]},"mark":{"type":"text","align":"left","baseline":"top","lineBreak":"\n","lineHeight":22,"font":"Noto Sans CJK SC","fontSize":10,"color":"#333"},"encoding":{"x":{"datum":-28.80,"type":"quantitative","axis":null},"y":{"datum":26.53,"type":"quantitative","axis":null},"text":{"field":"t"}}}
 ]},
{"width":400,"height":445,"layer":[
  {"data":{"name":"dirs"},"transform":[{"calculate":"datum.i*PI/8","as":"a"},{"calculate":"20*sin(datum.a)","as":"ex"},{"calculate":"20*cos(datum.a)","as":"ey"}],"mark":{"type":"rule","color":"#d4d4d4","strokeWidth":0.8},"encoding":{"x":{"field":"ex","type":"quantitative","scale":{"domain":[-29.15,24.91],"nice":false,"zero":false},"axis":null},"y":{"field":"ey","type":"quantitative","scale":{"domain":[-28.96,31.18],"nice":false,"zero":false},"axis":null},"x2":{"datum":0},"y2":{"datum":0}}},
  {"data":{"name":"dirs"},"transform":[{"calculate":"datum.i*PI/8","as":"a"},{"calculate":"[5,10,15]","as":"rv"},{"flatten":["rv"]},{"calculate":"datum.rv*sin(datum.a)","as":"x"},{"calculate":"datum.rv*cos(datum.a)","as":"y"}],"mark":{"type":"line","interpolate":"cardinal-closed","color":"#d4d4d4","strokeWidth":0.8},"encoding":{"x":{"field":"x","type":"quantitative","axis":null},"y":{"field":"y","type":"quantitative","axis":null},"detail":{"field":"rv","type":"nominal"},"order":{"field":"i","type":"quantitative"}}},
  {"data":{"name":"dirs"},"transform":[{"calculate":"datum.i*PI/8","as":"a"},{"calculate":"20*sin(datum.a)","as":"x"},{"calculate":"20*cos(datum.a)","as":"y"}],"mark":{"type":"line","interpolate":"cardinal-closed","color":"#444","strokeWidth":1.3},"encoding":{"x":{"field":"x","type":"quantitative","axis":null},"y":{"field":"y","type":"quantitative","axis":null},"order":{"field":"i","type":"quantitative"}}},
  {"data":{"name":"wind"},"transform":[{"filter":"datum.m==8"},{"calculate":"datum.i*PI/8","as":"a"},{"calculate":"floor(((datum.i+15)%16)/2)","as":"s"},{"calculate":"[datum.f,0]","as":"rr"},{"flatten":["rr"]},{"calculate":"datum.rr*sin(datum.a)","as":"x"},{"calculate":"datum.rr*cos(datum.a)","as":"y"}],"mark":{"type":"line","interpolate":"linear-closed","fill":"#2a2a2a","stroke":"#2a2a2a","strokeWidth":0.5},"encoding":{"x":{"field":"x","type":"quantitative","axis":null},"y":{"field":"y","type":"quantitative","axis":null},"detail":{"field":"s","type":"nominal"},"order":{"field":"rr","type":"quantitative","sort":"descending"}}},
  {"data":{"name":"wind"},"transform":[{"filter":"datum.m==8"},{"calculate":"datum.i*PI/8","as":"a"},{"calculate":"datum.f*sin(datum.a)","as":"x"},{"calculate":"datum.f*cos(datum.a)","as":"y"}],"mark":{"type":"line","interpolate":"linear-closed","color":"#333","strokeWidth":1},"encoding":{"x":{"field":"x","type":"quantitative","axis":null},"y":{"field":"y","type":"quantitative","axis":null},"order":{"field":"i","type":"quantitative"}}},
  {"data":{"values":[{}]},"mark":{"type":"point","filled":true,"color":"#000","size":16,"opacity":1},"encoding":{"x":{"datum":0,"type":"quantitative","axis":null},"y":{"datum":0,"type":"quantitative","axis":null}}},
  {"data":{"name":"dirs"},"transform":[{"calculate":"datum.i*PI/8","as":"a"},{"calculate":"21.22*sin(datum.a)","as":"x"},{"calculate":"21.22*cos(datum.a)","as":"y"}],"mark":{"type":"text","font":"Liberation Mono","fontSize":8,"color":"#444"},"encoding":{"x":{"field":"x","type":"quantitative","axis":null},"y":{"field":"y","type":"quantitative","axis":null},"text":{"field":"d"}}},
  {"data":{"values":[{"v":5},{"v":10},{"v":15},{"v":20}]},"mark":{"type":"text","align":"left","baseline":"middle","dx":3,"dy":-8,"font":"Liberation Mono"},"encoding":{"x":{"datum":0,"type":"quantitative","axis":null},"y":{"field":"v","type":"quantitative","axis":null},"text":{"field":"v","type":"quantitative"},"fontSize":{"condition":{"test":"datum.v==20","value":11},"value":8},"color":{"condition":{"test":"datum.v==20","value":"#222"},"value":"#666"}}},
  {"data":{"values":[{"t":"包头近二十年累年8月风向频率统\n（2003-2022）\n（静风频率：12.4%）"}]},"mark":{"type":"text","align":"left","baseline":"top","lineBreak":"\n","lineHeight":22,"font":"Noto Sans CJK SC","fontSize":10,"color":"#333"},"encoding":{"x":{"datum":-27.30,"type":"quantitative","axis":null},"y":{"datum":26.95,"type":"quantitative","axis":null},"text":{"field":"t"}}}
 ]},
{"width":393,"height":445,"layer":[
  {"data":{"name":"dirs"},"transform":[{"calculate":"datum.i*PI/8","as":"a"},{"calculate":"14*sin(datum.a)","as":"ex"},{"calculate":"14*cos(datum.a)","as":"ey"}],"mark":{"type":"rule","color":"#d4d4d4","strokeWidth":0.8},"encoding":{"x":{"field":"ex","type":"quantitative","scale":{"domain":[-19.88,17.55],"nice":false,"zero":false},"axis":null},"y":{"field":"ey","type":"quantitative","scale":{"domain":[-20.50,21.88],"nice":false,"zero":false},"axis":null},"x2":{"datum":0},"y2":{"datum":0}}},
  {"data":{"name":"dirs"},"transform":[{"calculate":"datum.i*PI/8","as":"a"},{"calculate":"[2,4,6,8,10,12]","as":"rv"},{"flatten":["rv"]},{"calculate":"datum.rv*sin(datum.a)","as":"x"},{"calculate":"datum.rv*cos(datum.a)","as":"y"}],"mark":{"type":"line","interpolate":"cardinal-closed","color":"#d4d4d4","strokeWidth":0.8},"encoding":{"x":{"field":"x","type":"quantitative","axis":null},"y":{"field":"y","type":"quantitative","axis":null},"detail":{"field":"rv","type":"nominal"},"order":{"field":"i","type":"quantitative"}}},
  {"data":{"name":"dirs"},"transform":[{"calculate":"datum.i*PI/8","as":"a"},{"calculate":"14*sin(datum.a)","as":"x"},{"calculate":"14*cos(datum.a)","as":"y"}],"mark":{"type":"line","interpolate":"cardinal-closed","color":"#444","strokeWidth":1.3},"encoding":{"x":{"field":"x","type":"quantitative","axis":null},"y":{"field":"y","type":"quantitative","axis":null},"order":{"field":"i","type":"quantitative"}}},
  {"data":{"name":"wind"},"transform":[{"filter":"datum.m==9"},{"calculate":"datum.i*PI/8","as":"a"},{"calculate":"floor(((datum.i+15)%16)/2)","as":"s"},{"calculate":"[datum.f,0]","as":"rr"},{"flatten":["rr"]},{"calculate":"datum.rr*sin(datum.a)","as":"x"},{"calculate":"datum.rr*cos(datum.a)","as":"y"}],"mark":{"type":"line","interpolate":"linear-closed","fill":"#2a2a2a","stroke":"#2a2a2a","strokeWidth":0.5},"encoding":{"x":{"field":"x","type":"quantitative","axis":null},"y":{"field":"y","type":"quantitative","axis":null},"detail":{"field":"s","type":"nominal"},"order":{"field":"rr","type":"quantitative","sort":"descending"}}},
  {"data":{"name":"wind"},"transform":[{"filter":"datum.m==9"},{"calculate":"datum.i*PI/8","as":"a"},{"calculate":"datum.f*sin(datum.a)","as":"x"},{"calculate":"datum.f*cos(datum.a)","as":"y"}],"mark":{"type":"line","interpolate":"linear-closed","color":"#333","strokeWidth":1},"encoding":{"x":{"field":"x","type":"quantitative","axis":null},"y":{"field":"y","type":"quantitative","axis":null},"order":{"field":"i","type":"quantitative"}}},
  {"data":{"values":[{}]},"mark":{"type":"point","filled":true,"color":"#000","size":16,"opacity":1},"encoding":{"x":{"datum":0,"type":"quantitative","axis":null},"y":{"datum":0,"type":"quantitative","axis":null}}},
  {"data":{"name":"dirs"},"transform":[{"calculate":"datum.i*PI/8","as":"a"},{"calculate":"14.86*sin(datum.a)","as":"x"},{"calculate":"14.86*cos(datum.a)","as":"y"}],"mark":{"type":"text","font":"Liberation Mono","fontSize":8,"color":"#444"},"encoding":{"x":{"field":"x","type":"quantitative","axis":null},"y":{"field":"y","type":"quantitative","axis":null},"text":{"field":"d"}}},
  {"data":{"values":[{"v":2},{"v":4},{"v":6},{"v":8},{"v":10},{"v":12},{"v":14}]},"mark":{"type":"text","align":"left","baseline":"middle","dx":3,"dy":-8,"font":"Liberation Mono"},"encoding":{"x":{"datum":0,"type":"quantitative","axis":null},"y":{"field":"v","type":"quantitative","axis":null},"text":{"field":"v","type":"quantitative"},"fontSize":{"condition":{"test":"datum.v==14","value":11},"value":8},"color":{"condition":{"test":"datum.v==14","value":"#222"},"value":"#666"}}},
  {"data":{"values":[{"t":"包头近二十年累年9月风向频率统计\n（2003-2022）\n（静风频率：13.2%）"}]},"mark":{"type":"text","align":"left","baseline":"top","lineBreak":"\n","lineHeight":22,"font":"Noto Sans CJK SC","fontSize":10,"color":"#333"},"encoding":{"x":{"datum":-18.48,"type":"quantitative","axis":null},"y":{"datum":18.26,"type":"quantitative","axis":null},"text":{"field":"t"}}}
 ]}
], "spacing": 0, "bounds": "flush", "resolve": {"scale": {"x": "independent", "y": "independent"}}},
{"hconcat": [
{"width":400,"height":393,"layer":[
  {"data":{"name":"dirs"},"transform":[{"calculate":"datum.i*PI/8","as":"a"},{"calculate":"12*sin(datum.a)","as":"ex"},{"calculate":"12*cos(datum.a)","as":"ey"}],"mark":{"type":"rule","color":"#d4d4d4","strokeWidth":0.8},"encoding":{"x":{"field":"ex","type":"quantitative","scale":{"domain":[-19.52,16.85],"nice":false,"zero":false},"axis":null},"y":{"field":"ey","type":"quantitative","scale":{"domain":[-17.94,17.79],"nice":false,"zero":false},"axis":null},"x2":{"datum":0},"y2":{"datum":0}}},
  {"data":{"name":"dirs"},"transform":[{"calculate":"datum.i*PI/8","as":"a"},{"calculate":"[2,4,6,8,10]","as":"rv"},{"flatten":["rv"]},{"calculate":"datum.rv*sin(datum.a)","as":"x"},{"calculate":"datum.rv*cos(datum.a)","as":"y"}],"mark":{"type":"line","interpolate":"cardinal-closed","color":"#d4d4d4","strokeWidth":0.8},"encoding":{"x":{"field":"x","type":"quantitative","axis":null},"y":{"field":"y","type":"quantitative","axis":null},"detail":{"field":"rv","type":"nominal"},"order":{"field":"i","type":"quantitative"}}},
  {"data":{"name":"dirs"},"transform":[{"calculate":"datum.i*PI/8","as":"a"},{"calculate":"12*sin(datum.a)","as":"x"},{"calculate":"12*cos(datum.a)","as":"y"}],"mark":{"type":"line","interpolate":"cardinal-closed","color":"#444","strokeWidth":1.3},"encoding":{"x":{"field":"x","type":"quantitative","axis":null},"y":{"field":"y","type":"quantitative","axis":null},"order":{"field":"i","type":"quantitative"}}},
  {"data":{"name":"wind"},"transform":[{"filter":"datum.m==10"},{"calculate":"datum.i*PI/8","as":"a"},{"calculate":"floor(((datum.i+15)%16)/2)","as":"s"},{"calculate":"[datum.f,0]","as":"rr"},{"flatten":["rr"]},{"calculate":"datum.rr*sin(datum.a)","as":"x"},{"calculate":"datum.rr*cos(datum.a)","as":"y"}],"mark":{"type":"line","interpolate":"linear-closed","fill":"#2a2a2a","stroke":"#2a2a2a","strokeWidth":0.5},"encoding":{"x":{"field":"x","type":"quantitative","axis":null},"y":{"field":"y","type":"quantitative","axis":null},"detail":{"field":"s","type":"nominal"},"order":{"field":"rr","type":"quantitative","sort":"descending"}}},
  {"data":{"name":"wind"},"transform":[{"filter":"datum.m==10"},{"calculate":"datum.i*PI/8","as":"a"},{"calculate":"datum.f*sin(datum.a)","as":"x"},{"calculate":"datum.f*cos(datum.a)","as":"y"}],"mark":{"type":"line","interpolate":"linear-closed","color":"#333","strokeWidth":1},"encoding":{"x":{"field":"x","type":"quantitative","axis":null},"y":{"field":"y","type":"quantitative","axis":null},"order":{"field":"i","type":"quantitative"}}},
  {"data":{"values":[{}]},"mark":{"type":"point","filled":true,"color":"#000","size":16,"opacity":1},"encoding":{"x":{"datum":0,"type":"quantitative","axis":null},"y":{"datum":0,"type":"quantitative","axis":null}}},
  {"data":{"name":"dirs"},"transform":[{"calculate":"datum.i*PI/8","as":"a"},{"calculate":"12.82*sin(datum.a)","as":"x"},{"calculate":"12.82*cos(datum.a)","as":"y"}],"mark":{"type":"text","font":"Liberation Mono","fontSize":8,"color":"#444"},"encoding":{"x":{"field":"x","type":"quantitative","axis":null},"y":{"field":"y","type":"quantitative","axis":null},"text":{"field":"d"}}},
  {"data":{"values":[{"v":2},{"v":4},{"v":6},{"v":8},{"v":10},{"v":12}]},"mark":{"type":"text","align":"left","baseline":"middle","dx":3,"dy":-8,"font":"Liberation Mono"},"encoding":{"x":{"datum":0,"type":"quantitative","axis":null},"y":{"field":"v","type":"quantitative","axis":null},"text":{"field":"v","type":"quantitative"},"fontSize":{"condition":{"test":"datum.v==12","value":11},"value":8},"color":{"condition":{"test":"datum.v==12","value":"#222"},"value":"#666"}}},
  {"data":{"values":[{"t":"包头近二十年累年10月风向频率统\n（2003-2022）\n（静风频率：16.6%）"}]},"mark":{"type":"text","align":"left","baseline":"top","lineBreak":"\n","lineHeight":22,"font":"Noto Sans CJK SC","fontSize":10,"color":"#333"},"encoding":{"x":{"datum":-17.79,"type":"quantitative","axis":null},"y":{"datum":15.85,"type":"quantitative","axis":null},"text":{"field":"t"}}}
 ]},
{"width":400,"height":393,"layer":[
  {"data":{"name":"dirs"},"transform":[{"calculate":"datum.i*PI/8","as":"a"},{"calculate":"14*sin(datum.a)","as":"ex"},{"calculate":"14*cos(datum.a)","as":"ey"}],"mark":{"type":"rule","color":"#d4d4d4","strokeWidth":0.8},"encoding":{"x":{"field":"ex","type":"quantitative","scale":{"domain":[-22.96,18.22],"nice":false,"zero":false},"axis":null},"y":{"field":"ey","type":"quantitative","scale":{"domain":[-20.41,20.04],"nice":false,"zero":false},"axis":null},"x2":{"datum":0},"y2":{"datum":0}}},
  {"data":{"name":"dirs"},"transform":[{"calculate":"datum.i*PI/8","as":"a"},{"calculate":"[2,4,6,8,10,12]","as":"rv"},{"flatten":["rv"]},{"calculate":"datum.rv*sin(datum.a)","as":"x"},{"calculate":"datum.rv*cos(datum.a)","as":"y"}],"mark":{"type":"line","interpolate":"cardinal-closed","color":"#d4d4d4","strokeWidth":0.8},"encoding":{"x":{"field":"x","type":"quantitative","axis":null},"y":{"field":"y","type":"quantitative","axis":null},"detail":{"field":"rv","type":"nominal"},"order":{"field":"i","type":"quantitative"}}},
  {"data":{"name":"dirs"},"transform":[{"calculate":"datum.i*PI/8","as":"a"},{"calculate":"14*sin(datum.a)","as":"x"},{"calculate":"14*cos(datum.a)","as":"y"}],"mark":{"type":"line","interpolate":"cardinal-closed","color":"#444","strokeWidth":1.3},"encoding":{"x":{"field":"x","type":"quantitative","axis":null},"y":{"field":"y","type":"quantitative","axis":null},"order":{"field":"i","type":"quantitative"}}},
  {"data":{"name":"wind"},"transform":[{"filter":"datum.m==11"},{"calculate":"datum.i*PI/8","as":"a"},{"calculate":"floor(((datum.i+15)%16)/2)","as":"s"},{"calculate":"[datum.f,0]","as":"rr"},{"flatten":["rr"]},{"calculate":"datum.rr*sin(datum.a)","as":"x"},{"calculate":"datum.rr*cos(datum.a)","as":"y"}],"mark":{"type":"line","interpolate":"linear-closed","fill":"#2a2a2a","stroke":"#2a2a2a","strokeWidth":0.5},"encoding":{"x":{"field":"x","type":"quantitative","axis":null},"y":{"field":"y","type":"quantitative","axis":null},"detail":{"field":"s","type":"nominal"},"order":{"field":"rr","type":"quantitative","sort":"descending"}}},
  {"data":{"name":"wind"},"transform":[{"filter":"datum.m==11"},{"calculate":"datum.i*PI/8","as":"a"},{"calculate":"datum.f*sin(datum.a)","as":"x"},{"calculate":"datum.f*cos(datum.a)","as":"y"}],"mark":{"type":"line","interpolate":"linear-closed","color":"#333","strokeWidth":1},"encoding":{"x":{"field":"x","type":"quantitative","axis":null},"y":{"field":"y","type":"quantitative","axis":null},"order":{"field":"i","type":"quantitative"}}},
  {"data":{"values":[{}]},"mark":{"type":"point","filled":true,"color":"#000","size":16,"opacity":1},"encoding":{"x":{"datum":0,"type":"quantitative","axis":null},"y":{"datum":0,"type":"quantitative","axis":null}}},
  {"data":{"name":"dirs"},"transform":[{"calculate":"datum.i*PI/8","as":"a"},{"calculate":"14.93*sin(datum.a)","as":"x"},{"calculate":"14.93*cos(datum.a)","as":"y"}],"mark":{"type":"text","font":"Liberation Mono","fontSize":8,"color":"#444"},"encoding":{"x":{"field":"x","type":"quantitative","axis":null},"y":{"field":"y","type":"quantitative","axis":null},"text":{"field":"d"}}},
  {"data":{"values":[{"v":2},{"v":4},{"v":6},{"v":8},{"v":10},{"v":12},{"v":14}]},"mark":{"type":"text","align":"left","baseline":"middle","dx":3,"dy":-8,"font":"Liberation Mono"},"encoding":{"x":{"datum":0,"type":"quantitative","axis":null},"y":{"field":"v","type":"quantitative","axis":null},"text":{"field":"v","type":"quantitative"},"fontSize":{"condition":{"test":"datum.v==14","value":11},"value":8},"color":{"condition":{"test":"datum.v==14","value":"#222"},"value":"#666"}}},
  {"data":{"values":[{"t":"包头近二十年累年11月风向频率统\n（2003-2022）\n（静风频率：14.9%）"}]},"mark":{"type":"text","align":"left","baseline":"top","lineBreak":"\n","lineHeight":22,"font":"Noto Sans CJK SC","fontSize":10,"color":"#333"},"encoding":{"x":{"datum":-20.18,"type":"quantitative","axis":null},"y":{"datum":18.70,"type":"quantitative","axis":null},"text":{"field":"t"}}}
 ]},
{"width":393,"height":393,"layer":[
  {"data":{"name":"dirs"},"transform":[{"calculate":"datum.i*PI/8","as":"a"},{"calculate":"14*sin(datum.a)","as":"ex"},{"calculate":"14*cos(datum.a)","as":"ey"}],"mark":{"type":"rule","color":"#d4d4d4","strokeWidth":0.8},"encoding":{"x":{"field":"ex","type":"quantitative","scale":{"domain":[-21.10,19.96],"nice":false,"zero":false},"axis":null},"y":{"field":"ey","type":"quantitative","scale":{"domain":[-20.30,20.76],"nice":false,"zero":false},"axis":null},"x2":{"datum":0},"y2":{"datum":0}}},
  {"data":{"name":"dirs"},"transform":[{"calculate":"datum.i*PI/8","as":"a"},{"calculate":"[2,4,6,8,10,12]","as":"rv"},{"flatten":["rv"]},{"calculate":"datum.rv*sin(datum.a)","as":"x"},{"calculate":"datum.rv*cos(datum.a)","as":"y"}],"mark":{"type":"line","interpolate":"cardinal-closed","color":"#d4d4d4","strokeWidth":0.8},"encoding":{"x":{"field":"x","type":"quantitative","axis":null},"y":{"field":"y","type":"quantitative","axis":null},"detail":{"field":"rv","type":"nominal"},"order":{"field":"i","type":"quantitative"}}},
  {"data":{"name":"dirs"},"transform":[{"calculate":"datum.i*PI/8","as":"a"},{"calculate":"14*sin(datum.a)","as":"x"},{"calculate":"14*cos(datum.a)","as":"y"}],"mark":{"type":"line","interpolate":"cardinal-closed","color":"#444","strokeWidth":1.3},"encoding":{"x":{"field":"x","type":"quantitative","axis":null},"y":{"field":"y","type":"quantitative","axis":null},"order":{"field":"i","type":"quantitative"}}},
  {"data":{"name":"wind"},"transform":[{"filter":"datum.m==12"},{"calculate":"datum.i*PI/8","as":"a"},{"calculate":"floor(((datum.i+15)%16)/2)","as":"s"},{"calculate":"[datum.f,0]","as":"rr"},{"flatten":["rr"]},{"calculate":"datum.rr*sin(datum.a)","as":"x"},{"calculate":"datum.rr*cos(datum.a)","as":"y"}],"mark":{"type":"line","interpolate":"linear-closed","fill":"#2a2a2a","stroke":"#2a2a2a","strokeWidth":0.5},"encoding":{"x":{"field":"x","type":"quantitative","axis":null},"y":{"field":"y","type":"quantitative","axis":null},"detail":{"field":"s","type":"nominal"},"order":{"field":"rr","type":"quantitative","sort":"descending"}}},
  {"data":{"name":"wind"},"transform":[{"filter":"datum.m==12"},{"calculate":"datum.i*PI/8","as":"a"},{"calculate":"datum.f*sin(datum.a)","as":"x"},{"calculate":"datum.f*cos(datum.a)","as":"y"}],"mark":{"type":"line","interpolate":"linear-closed","color":"#333","strokeWidth":1},"encoding":{"x":{"field":"x","type":"quantitative","axis":null},"y":{"field":"y","type":"quantitative","axis":null},"order":{"field":"i","type":"quantitative"}}},
  {"data":{"values":[{}]},"mark":{"type":"point","filled":true,"color":"#000","size":16,"opacity":1},"encoding":{"x":{"datum":0,"type":"quantitative","axis":null},"y":{"datum":0,"type":"quantitative","axis":null}}},
  {"data":{"name":"dirs"},"transform":[{"calculate":"datum.i*PI/8","as":"a"},{"calculate":"14.94*sin(datum.a)","as":"x"},{"calculate":"14.94*cos(datum.a)","as":"y"}],"mark":{"type":"text","font":"Liberation Mono","fontSize":8,"color":"#444"},"encoding":{"x":{"field":"x","type":"quantitative","axis":null},"y":{"field":"y","type":"quantitative","axis":null},"text":{"field":"d"}}},
  {"data":{"values":[{"v":2},{"v":4},{"v":6},{"v":8},{"v":10},{"v":12},{"v":14}]},"mark":{"type":"text","align":"left","baseline":"middle","dx":3,"dy":-8,"font":"Liberation Mono"},"encoding":{"x":{"datum":0,"type":"quantitative","axis":null},"y":{"field":"v","type":"quantitative","axis":null},"text":{"field":"v","type":"quantitative"},"fontSize":{"condition":{"test":"datum.v==14","value":11},"value":8},"color":{"condition":{"test":"datum.v==14","value":"#222"},"value":"#666"}}},
  {"data":{"values":[{"t":"包头近二十年累年12月风向频率统\n（2003-2022）\n（静风频率：15.6%）"}]},"mark":{"type":"text","align":"left","baseline":"top","lineBreak":"\n","lineHeight":22,"font":"Noto Sans CJK SC","fontSize":10,"color":"#333"},"encoding":{"x":{"datum":-19.92,"type":"quantitative","axis":null},"y":{"datum":18.36,"type":"quantitative","axis":null},"text":{"field":"t"}}}
 ]}
], "spacing": 0, "bounds": "flush", "resolve": {"scale": {"x": "independent", "y": "independent"}}}
]
}
